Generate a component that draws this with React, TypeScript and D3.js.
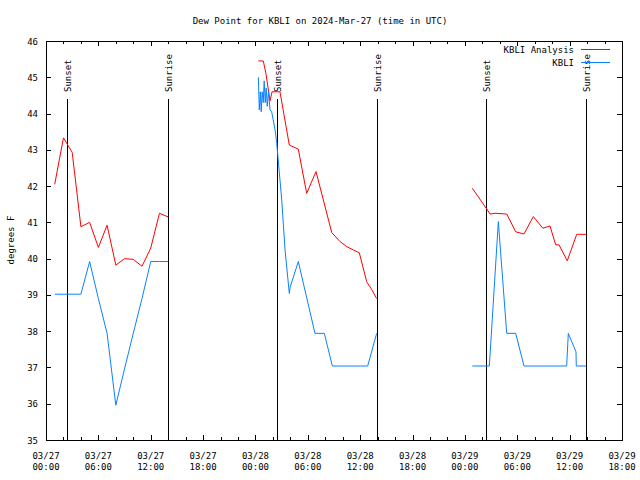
import React from "react";
import * as d3 from "d3";

// hours since 2024-03-27 00:00 UTC
const redDay1Hours = [1, 2, 3, 4, 5, 6, 7, 8, 9, 10, 11, 12, 13, 14];
const redDay1Vals = [42.05, 43.33, 42.93, 40.88, 41.0, 40.31, 40.92, 39.82, 40.0, 39.98, 39.79, 40.29, 41.25, 41.15];
const blueDay1Hours = [1, 2, 3, 4, 5, 6, 7, 8, 9, 10, 11, 12, 13, 14];
const blueDay1Vals = [39.02, 39.02, 39.02, 39.02, 39.92, 38.9, 37.94, 35.96, 36.96, 37.94, 38.9, 39.92, 39.92, 39.92];

const redDay2Hours = [24.33, 24.9, 25.2, 25.67, 25.9, 26.81, 27.88, 28.91, 29.87, 30.94, 32.74, 33.69, 34.46, 35.21, 35.9, 36.75, 37.32, 37.89];
const redDay2Vals = [45.45, 45.45, 45.1, 44.35, 44.6, 44.6, 43.13, 43.02, 41.8, 42.4, 40.72, 40.47, 40.33, 40.24, 40.16, 39.36, 39.15, 38.9];
const blueDay2Hours = [24.33, 24.44, 24.56, 24.66, 24.77, 24.89, 25.0, 25.12, 25.23, 25.35, 25.5, 25.67, 25.86, 26.25, 26.44, 27.01, 27.39, 27.88, 27.96, 28.91, 30.82, 31.89, 32.81, 36.86, 37.89];
const blueDay2Vals = [45.0, 44.1, 44.6, 44.05, 44.6, 44.3, 44.9, 44.3, 44.7, 44.2, 44.6, 44.1, 44.05, 43.55, 43.18, 41.62, 40.24, 39.04, 39.2, 39.92, 37.94, 37.94, 37.04, 37.04, 37.94];

const redDay3Hours = [48.85, 50.5, 50.88, 51.45, 52.79, 53.82, 54.77, 55.84, 56.92, 57.75, 58.4, 58.78, 59.73, 60.81, 61.88];
const redDay3Vals = [41.94, 41.37, 41.23, 41.25, 41.23, 40.74, 40.68, 41.16, 40.84, 40.9, 40.38, 40.38, 39.94, 40.67, 40.67];
const blueDay3Hours = [48.85, 50.8, 51.83, 52.79, 53.82, 54.77, 59.66, 59.85, 60.73, 60.76, 61.88];
const blueDay3Vals = [37.04, 37.04, 41.02, 37.94, 37.94, 37.04, 37.04, 37.94, 37.43, 37.04, 37.04];

const sunHours = [2.41, 13.98, 26.47, 37.93, 50.42, 61.88];
const sunLabels = ["Sunset", "Sunrise", "Sunset", "Sunrise", "Sunset", "Sunrise"];

const yTicks = [35, 36, 37, 38, 39, 40, 41, 42, 43, 44, 45, 46];
const xMajorHours = [0, 6, 12, 18, 24, 30, 36, 42, 48, 54, 60, 66];
const xTickDates = ["03/27", "03/27", "03/27", "03/27", "03/28", "03/28", "03/28", "03/28", "03/29", "03/29", "03/29", "03/29"];
const xTickTimes = ["00:00", "06:00", "12:00", "18:00", "00:00", "06:00", "12:00", "18:00", "00:00", "06:00", "12:00", "18:00"];

const title = "Dew Point for KBLI on 2024-Mar-27 (time in UTC)";
const yLabel = "degrees F";
const legendNames = ["KBLI Analysis", "KBLI"];
const RED = "#ff0000";
const BLUE = "#0a80ff";

const FONT = "'DejaVu Sans Mono', monospace";

export default function App() {
  const left = 46, right = 622, top = 41, bottom = 440;
  const x = d3.scaleLinear().domain([0, 66]).range([left, right]);
  const y = d3.scaleLinear().domain([35, 46]).range([bottom, top]);
  const line = d3.line<[number, number]>().x((d) => x(d[0])).y((d) => y(d[1]));
  const mk = (h: number[], v: number[]) => line(h.map((t, i) => [t, v[i]] as [number, number])) || "";

  const reds = [mk(redDay1Hours, redDay1Vals), mk(redDay2Hours, redDay2Vals), mk(redDay3Hours, redDay3Vals)];
  const blues = [mk(blueDay1Hours, blueDay1Vals), mk(blueDay2Hours, blueDay2Vals), mk(blueDay3Hours, blueDay3Vals)];
  const minor = d3.range(0, 67, 2).filter((h) => h % 6 !== 0);

  return (
    <svg width={640} height={480} style={{ position: "absolute", left: 0, top: 0, display: "block", background: "#fff" }} fontFamily={FONT} fontSize={9}>
      <rect x={0} y={0} width={640} height={480} fill="#fff" />
      <text x={320} y={24} textAnchor="middle" fill="#000">{title}</text>
      <text transform="translate(14,240) rotate(-90)" textAnchor="middle" fill="#000">{yLabel}</text>
      <g shapeRendering="crispEdges" stroke="#000" strokeWidth={1}>
        {yTicks.map((t) => (
          <g key={t}>
            <line x1={left} x2={left + 5} y1={Math.round(y(t)) + 0.5} y2={Math.round(y(t)) + 0.5} />
            <line x1={right - 5} x2={right} y1={Math.round(y(t)) + 0.5} y2={Math.round(y(t)) + 0.5} />
          </g>
        ))}
        {xMajorHours.map((h) => (
          <g key={h}>
            <line x1={Math.round(x(h)) + 0.5} x2={Math.round(x(h)) + 0.5} y1={bottom} y2={bottom - 5} />
            <line x1={Math.round(x(h)) + 0.5} x2={Math.round(x(h)) + 0.5} y1={top} y2={top + 5} />
          </g>
        ))}
        {minor.map((h) => (
          <g key={h}>
            <line x1={Math.round(x(h)) + 0.5} x2={Math.round(x(h)) + 0.5} y1={bottom} y2={bottom - 3} />
            <line x1={Math.round(x(h)) + 0.5} x2={Math.round(x(h)) + 0.5} y1={top} y2={top + 3} />
          </g>
        ))}
        {sunHours.map((h, i) => (
          <line key={i} x1={Math.round(x(h)) + 0.5} x2={Math.round(x(h)) + 0.5} y1={99} y2={bottom} />
        ))}
      </g>
      {yTicks.map((t) => (
        <text key={t} x={38} y={y(t) + 3.5} textAnchor="end" fill="#000">{t}</text>
      ))}
      {xMajorHours.map((h, i) => (
        <g key={h}>
          <text x={x(h)} y={459} textAnchor="middle" fill="#000">{xTickDates[i]}</text>
          <text x={x(h)} y={470} textAnchor="middle" fill="#000">{xTickTimes[i]}</text>
        </g>
      ))}
      {sunHours.map((h, i) => (
        <text key={i} transform={`translate(${Math.round(x(h)) + 4},92) rotate(-90)`} textAnchor="start" fill="#000">{sunLabels[i]}</text>
      ))}
      <g fill="none" strokeWidth={1}>
        {reds.map((d, i) => <path key={"r" + i} d={d} stroke={RED} />)}
        {blues.map((d, i) => <path key={"b" + i} d={d} stroke={BLUE} />)}
      </g>
      <text x={574} y={53} textAnchor="end" fill="#000">{legendNames[0]}</text>
      <line x1={581} x2={610} y1={49.5} y2={49.5} stroke={RED} shapeRendering="crispEdges" />
      <text x={574} y={66} textAnchor="end" fill="#000">{legendNames[1]}</text>
      <line x1={581} x2={610} y1={62.5} y2={62.5} stroke={BLUE} shapeRendering="crispEdges" />
      <rect x={left + 0.5} y={top + 0.5} width={right - left} height={bottom - top} fill="none" stroke="#000" shapeRendering="crispEdges" />
    </svg>
  );
}
